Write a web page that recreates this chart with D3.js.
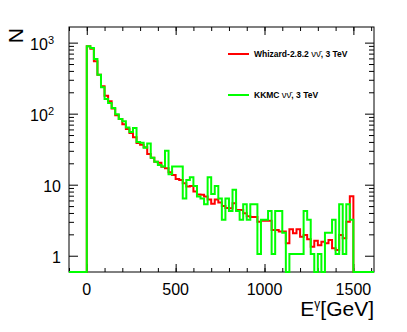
<!DOCTYPE html>
<html>
<head>
<meta charset="utf-8">
<script src="https://cdnjs.cloudflare.com/ajax/libs/d3/7.8.5/d3.min.js"></script>
<style>
  body { margin: 0; background: #fff; }
  text { font-family: 'Liberation Sans', Arial, Helvetica, sans-serif; }
</style>
</head>
<body>
<div class="chart"></div>
<script>
// DATA
// ----------------------------
// photon energy bins, 20 GeV wide, lower edges from 0 to 1480 GeV
const binWidth = 20
const binLow = d3.range(0, 1500, binWidth)

// Whizard-2.8.2 (red)
const whizard = [
  887, 823, 547, 353, 243, 179, 149, 118, 95, 84,
  71, 61, 53.5, 46.5, 38.6, 36.5, 33.6, 27, 24, 21,
  20.4, 17.9, 17, 15, 13.7, 12, 11.6, 10.5, 9.4, 9.6,
  8, 7.3, 7.2, 6.8, 6.2, 5.4, 6.2, 5.6, 5.0, 4.7,
  4.65, 5.5, 4.4, 4.4, 3.95, 3.6, 3.5, 3.5, 3.0, 3.1,
  3.1, 3.1, 2.3, 2.3, 2.2, 2.2, 1.5, 2.35, 2.07, 2.35,
  1.85, 1.96, 1.7, 1.34, 1.63, 1.41, 1.57, 1.5, 1.66, 1.27,
  1.2, 1.96, 1.76, 3.0, 6.9
]

// KKMC (green)
const kkmc = [
  887, 840, 589, 353, 235, 161, 141, 120, 98, 84,
  78, 64, 55, 63, 40, 39, 33, 38, 24, 21,
  19, 18, 30, 14, 18, 18, 18, 6.4, 11.6, 12.7,
  9.6, 6.8, 6.4, 5.3, 12.7, 7.4, 9.6, 6.4, 3.2, 6.4,
  4.25, 8.5, 4.25, 3.2, 5.3, 3.2, 5.3, 5.3, 1.06, 3.2,
  3.2, 4.25, 1.06, 4.25, 4.25, 2.1, 0, 1.06, 1.06, 1.06,
  1.06, 4.25, 3.2, 1.06, 0, 1.06, 0, 2.1, 2.1, 3.2,
  1.06, 5.3, 1.06, 5.3, 3.2
]

const xMajor = [0, 500, 1000, 1500]
const xMinor = d3.range(-100, 1601, 100)
const yMajor = [1, 10, 100, 1000]
const yLabels = [
  { base: '1', exp: '' },
  { base: '10', exp: '' },
  { base: '10', exp: '2' },
  { base: '10', exp: '3' }
]
const yMinor = [2, 3, 4, 5, 6, 7, 8, 9, 20, 30, 40, 50, 60, 70, 80, 90,
  200, 300, 400, 500, 600, 700, 800, 900]

const series = [
  { name: 'Whizard-2.8.2', values: whizard, color: '#ff0000' },
  { name: 'KKMC', values: kkmc, color: '#00ff00' }
]

// SETUP
// ----------------------------
const margin = { top: 27, bottom: 60, left: 69, right: 33 }
const fullWidth = 407
const fullHeight = 332
const width = fullWidth - margin.left - margin.right
const height = fullHeight - margin.top - margin.bottom

const svg = d3.select('.chart')
  .append('svg')
    .attr('width', fullWidth)
    .attr('height', fullHeight)
  .append('g')
    .attr('transform', `translate(${margin.left}, ${margin.top})`)

const xScale = d3.scaleLinear()
  .domain([-100, 1616])
  .range([0, width])

const yScale = d3.scaleLog()
  .domain([0.59, 1660])
  .range([height, 0])

// frame
svg.append('rect')
  .attr('width', width)
  .attr('height', height)
  .attr('fill', 'none')
  .attr('stroke', '#000')
  .attr('stroke-width', 1)

// AXES (ROOT style, ticks inside on all four sides)
// ----------------------------
function tickAxis (axis, vals, size, transform) {
  const g = svg.append('g')
    .attr('transform', transform)
    .call(axis.tickValues(vals).tickSize(size).tickFormat(''))
  g.select('.domain').remove()
  g.selectAll('line').attr('stroke', '#000')
}
tickAxis(d3.axisBottom(xScale), xMajor, -8, `translate(0, ${height})`)
tickAxis(d3.axisBottom(xScale), xMinor, -4, `translate(0, ${height})`)
tickAxis(d3.axisTop(xScale), xMajor, -8, 'translate(0, 0)')
tickAxis(d3.axisTop(xScale), xMinor, -4, 'translate(0, 0)')
tickAxis(d3.axisLeft(yScale), yMajor, -9, 'translate(0, 0)')
tickAxis(d3.axisLeft(yScale), yMinor, -5, 'translate(0, 0)')
tickAxis(d3.axisRight(yScale), yMajor, -9, `translate(${width}, 0)`)
tickAxis(d3.axisRight(yScale), yMinor, -5, `translate(${width}, 0)`)

// x labels
svg.selectAll('.xlab')
  .data(xMajor)
  .enter()
  .append('text')
    .attr('class', 'xlab')
    .attr('x', d => xScale(d))
    .attr('y', height + 23)
    .attr('text-anchor', 'middle')
    .style('font-size', '16px')
    .text(d => d)

// y labels, with superscript exponents
const ylab = svg.selectAll('.ylab')
  .data(yMajor)
  .enter()
  .append('text')
    .attr('class', 'ylab')
    .attr('x', (d, i) => yLabels[i].exp ? -15 : -8)
    .attr('y', d => yScale(d) + 7)
    .attr('text-anchor', 'end')
    .style('font-size', '16px')
ylab.append('tspan').text((d, i) => yLabels[i].base)
ylab.append('tspan')
  .attr('dy', -6)
  .style('font-size', '11px')
  .text((d, i) => yLabels[i].exp)

// axis titles
const xTitle = svg.append('text')
  .attr('x', width)
  .attr('y', height + 44)
  .attr('text-anchor', 'end')
  .style('font-size', '21px')
xTitle.append('tspan').text('E')
xTitle.append('tspan').attr('dy', -8).style('font-size', '12px').text('γ')
xTitle.append('tspan').attr('dy', 8).text('[GeV]')

svg.append('text')
  .attr('transform', `translate(${-46}, 1) rotate(-90)`)
  .attr('text-anchor', 'end')
  .style('font-size', '21px')
  .text('N')

// HISTOGRAMS
// ----------------------------
const line = d3.line()
  .x(d => xScale(d[0]))
  .y(d => d[1] > 0 ? yScale(d[1]) : height)
  .curve(d3.curveStepAfter)

series.forEach(s => {
  const pts = [[-100, 0]]
    .concat(binLow.map((e, i) => [e, s.values[i]]))
    .concat([[1500, 0], [1616, 0]])
  svg.append('path')
    .datum(pts)
    .attr('d', line)
    .attr('fill', 'none')
    .attr('stroke', s.color)
    .attr('stroke-width', 2)
})

// LEGEND
// ----------------------------
const legend = svg.selectAll('.legend')
  .data(series)
  .enter()
  .append('g')
    .attr('class', 'legend')
    .attr('transform', (d, i) => `translate(159, ${27 + i * 41})`)

legend.append('line')
  .attr('x1', 0)
  .attr('x2', 21)
  .attr('stroke', d => d.color)
  .attr('stroke-width', 2)

const ltext = legend.append('text')
  .attr('x', 26)
  .attr('y', 3)
  .style('font-size', '8.5px')
ltext.append('tspan').style('font-weight', 'bold').text(d => d.name + ' ')
ltext.append('tspan').style('font-size', '9.5px').text('νν̄')
ltext.append('tspan').style('font-weight', 'bold').text(', 3 TeV')
</script>
</body>
</html>
